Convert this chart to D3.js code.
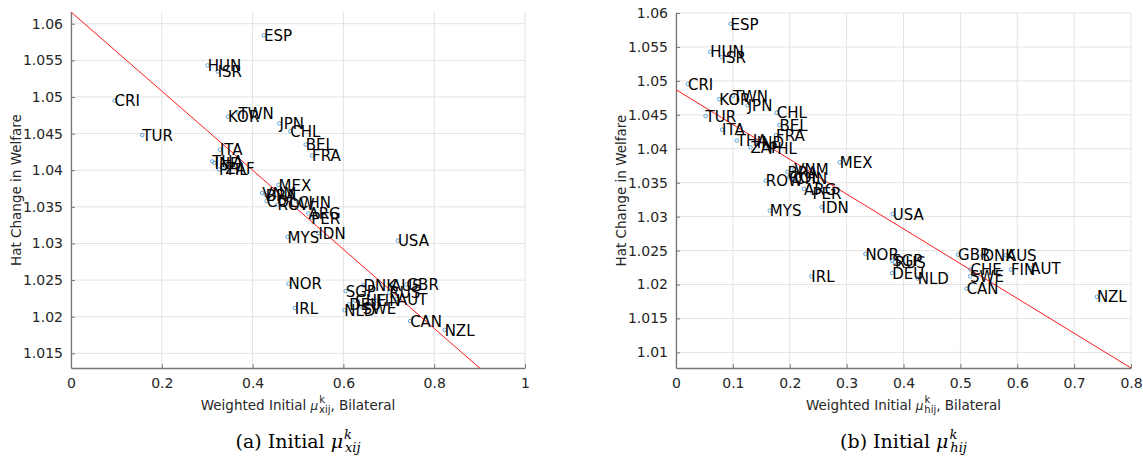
<!DOCTYPE html>
<html>
<head>
<meta charset="utf-8">
<script src="https://cdn.jsdelivr.net/npm/d3@7"></script>
<style>
  body { margin: 0; background: #fff; }
  svg text { font-family: "DejaVu Sans", sans-serif; }
</style>
</head>
<body>
<svg id="canvas"></svg>
<script>
const countries = ["ESP","HUN","ISR","CRI","TUR","KOR","TWN","JPN","CHL","BEL","FRA","ITA","THA","IND","PHL","ZAF",
    "MEX","VNM","BRA","COL","ROW","CHN","ARG","PER","IDN","MYS","USA","NOR","IRL","SGP","DNK","AUS","GBR","RUS",
    "CHE","FIN","AUT","DEU","NLD","SWE","CAN","NZL"];

// hat change in welfare (same for both panels)
const welfare = [1.0584,1.0543,1.0535,1.0495,1.0448,1.0473,1.0478,1.0464,1.0453,1.0435,1.0420,1.0428,1.0412,1.0410,1.0401,1.0402,
    1.0380,1.0369,1.0366,1.0358,1.0353,1.0356,1.0341,1.0335,1.0314,1.0309,1.0304,1.0245,1.0212,1.0235,1.0243,1.0243,1.0244,1.0233,
    1.0222,1.0222,1.0224,1.0217,1.0209,1.0212,1.0194,1.0182];

// weighted initial mu_xij
const muX = [0.425,0.301,0.323,0.096,0.157,0.346,0.369,0.459,0.483,0.517,0.531,0.328,0.311,0.316,0.326,0.340,
    0.457,0.421,0.429,0.431,0.455,0.500,0.523,0.529,0.545,0.477,0.720,0.479,0.493,0.605,0.644,0.705,0.739,0.701,
    0.626,0.672,0.718,0.613,0.602,0.642,0.747,0.823];

// weighted initial mu_hij
const muH = [0.096,0.060,0.080,0.021,0.052,0.076,0.100,0.126,0.177,0.182,0.176,0.081,0.107,0.142,0.162,0.131,
    0.288,0.208,0.196,0.199,0.158,0.208,0.225,0.240,0.256,0.165,0.381,0.333,0.238,0.380,0.539,0.580,0.496,0.385,
    0.518,0.589,0.623,0.380,0.425,0.517,0.511,0.740];

// fitted lines: [intercept, slope]
const fitX = [1.0616, -0.0540];
const fitH = [1.0487, -0.05125];

const xTicksA = [0, 0.2, 0.4, 0.6, 0.8, 1];
const yTicksA = [1.015, 1.02, 1.025, 1.03, 1.035, 1.04, 1.045, 1.05, 1.055, 1.06];
const xTicksB = [0, 0.1, 0.2, 0.3, 0.4, 0.5, 0.6, 0.7, 0.8];
const yTicksB = [1.01, 1.015, 1.02, 1.025, 1.03, 1.035, 1.04, 1.045, 1.05, 1.055, 1.06];

const svg = d3.select("#canvas").attr("width", 1143).attr("height", 459);

function fmt(v) { return String(+v.toFixed(3)); }

function drawPanel(opts) {
    const { id, left, right, top, bottom, xDomain, yDomain, xTicks, yTicks, xs, fit, sub, caption } = opts;
    const x = d3.scaleLinear().domain(xDomain).range([left, right]);
    const y = d3.scaleLinear().domain(yDomain).range([bottom, top]);
    const g = svg.append("g");

    g.append("clipPath").attr("id", "clip" + id)
        .append("rect").attr("x", left).attr("y", top).attr("width", right - left).attr("height", bottom - top);

    // grid
    g.selectAll(".vg").data(xTicks).join("line")
        .attr("x1", d => x(d)).attr("x2", d => x(d)).attr("y1", top).attr("y2", bottom)
        .attr("stroke", "#e3e3e3").attr("stroke-width", 1);
    g.selectAll(".hg").data(yTicks).join("line")
        .attr("x1", left).attr("x2", right).attr("y1", d => y(d)).attr("y2", d => y(d))
        .attr("stroke", "#e3e3e3").attr("stroke-width", 1);

    // axes
    const xAxis = d3.axisBottom(x).tickValues(xTicks).tickFormat(fmt).tickSizeInner(-4).tickSizeOuter(0).tickPadding(10);
    const yAxis = d3.axisLeft(y).tickValues(yTicks).tickFormat(fmt).tickSizeInner(-4).tickSizeOuter(0).tickPadding(8);
    const gx = g.append("g").attr("transform", `translate(0,${bottom})`).call(xAxis);
    const gy = g.append("g").attr("transform", `translate(${left},0)`).call(yAxis);
    [gx, gy].forEach(a => {
        a.select(".domain").attr("stroke", "#777").attr("stroke-width", 1.3);
        a.selectAll(".tick line").attr("stroke", "#777");
        a.selectAll(".tick text").attr("fill", "#262626").style("font-size", "14px");
    });

    // fitted line
    g.append("line")
        .attr("clip-path", `url(#clip${id})`)
        .attr("x1", x(xDomain[0])).attr("y1", y(fit[0] + fit[1] * xDomain[0]))
        .attr("x2", x(xDomain[1])).attr("y2", y(fit[0] + fit[1] * xDomain[1]))
        .attr("stroke", "#ff0000").attr("stroke-width", 0.9);

    // points and labels
    const pts = countries.map((c, i) => ({ c, xv: xs[i], yv: welfare[i] }));
    g.selectAll(".pt").data(pts).join("circle")
        .attr("cx", d => x(d.xv)).attr("cy", d => y(d.yv)).attr("r", 1.8)
        .attr("fill", "none").attr("stroke", "#3d8fd6").attr("stroke-width", 0.8);
    g.selectAll(".lb").data(pts).join("text")
        .attr("x", d => x(d.xv)).attr("y", d => y(d.yv)).attr("dy", "0.38em")
        .attr("fill", "#000").style("font-size", "15px")
        .text(d => d.c);

    // axis labels
    const cx = (left + right) / 2;
    const xl = g.append("text").attr("x", cx).attr("y", bottom + 42).attr("text-anchor", "middle")
        .attr("fill", "#262626").style("font-size", "13.5px");
    xl.append("tspan").text("Weighted Initial ");
    xl.append("tspan").text("\u03BC").style("font-style", "italic").style("font-size", "12px");
    xl.append("tspan").text("k").attr("dx", 1).attr("dy", -7).style("font-size", "10px");
    xl.append("tspan").text(sub).attr("dx", -6).attr("dy", 10).style("font-size", "10px");
    xl.append("tspan").text(", Bilateral").attr("dy", -3);

    g.append("text")
        .attr("transform", `translate(${left - 50},${(top + bottom) / 2}) rotate(-90)`)
        .attr("text-anchor", "middle").attr("fill", "#262626").style("font-size", "13.5px")
        .text("Hat Change in Welfare");

    // caption
    const cap = g.append("text").attr("x", cx).attr("y", 448).attr("text-anchor", "middle")
        .style("font-family", "'DejaVu Serif', serif").style("font-size", "19px").attr("fill", "#000");
    cap.append("tspan").text(caption + " Initial ");
    cap.append("tspan").text("\u03BC").style("font-style", "italic");
    cap.append("tspan").text("k").attr("dx", 1).attr("dy", -9).style("font-size", "13px").style("font-style", "italic");
    cap.append("tspan").text(sub).attr("dx", -7).attr("dy", 13).style("font-size", "13px").style("font-style", "italic");
}

drawPanel({ id: "a", left: 71, right: 525, top: 12, bottom: 368, xDomain: [0, 1], yDomain: [1.013, 1.0616],
    xTicks: xTicksA, yTicks: yTicksA, xs: muX, fit: fitX, sub: "xij", caption: "(a)" });
drawPanel({ id: "b", left: 676, right: 1131, top: 13, bottom: 368, xDomain: [0, 0.8], yDomain: [1.0077, 1.06],
    xTicks: xTicksB, yTicks: yTicksB, xs: muH, fit: fitH, sub: "hij", caption: "(b)" });
</script>
</body>
</html>
